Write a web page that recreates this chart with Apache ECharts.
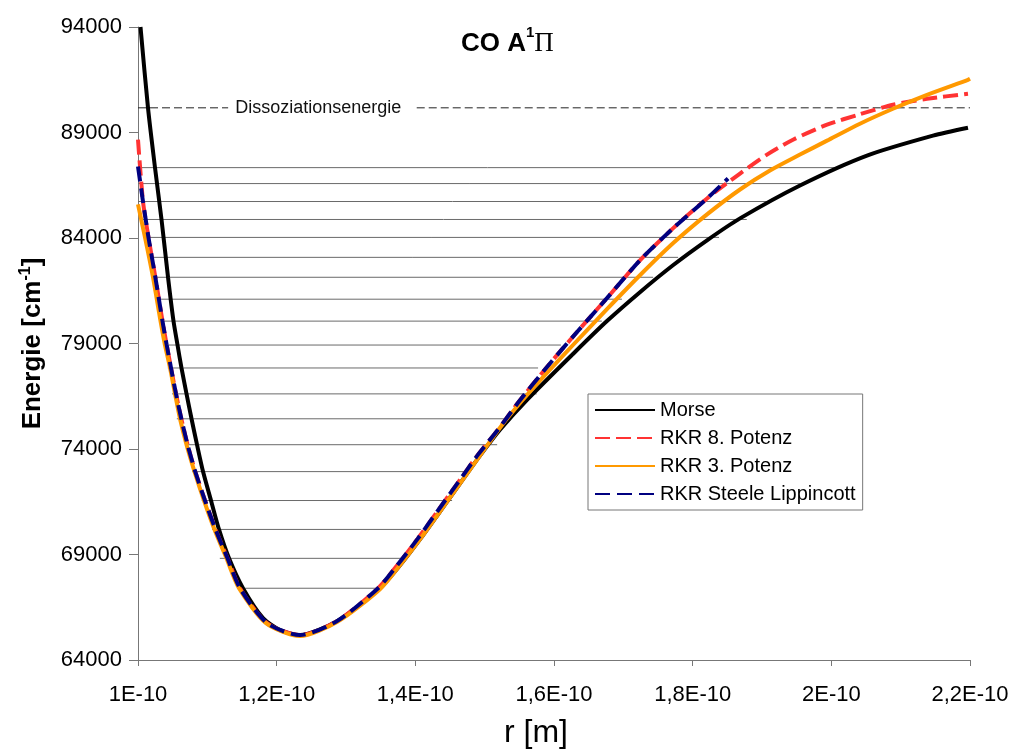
<!DOCTYPE html>
<html>
<head>
<meta charset="utf-8">
<style>
  html, body { margin: 0; padding: 0; background: #fff; }
  #chart { width: 1012px; height: 754px; }
</style>
<script src="https://cdn.jsdelivr.net/npm/echarts@6/dist/echarts.min.js"></script>
</head>
<body>
<div id="chart"></div>
<script>
// r in units of 1E-10 m, energies in cm^-1
const morseR = [1.0036, 1.0144, 1.0245, 1.0339, 1.0433, 1.0512, 1.0570, 1.0627, 1.0700, 1.0772, 1.0851, 1.0938, 1.1053, 1.1168, 1.1313, 1.1514, 1.1803, 1.2048, 1.2337, 1.2870, 1.3490, 1.3779, 1.4067, 1.4356, 1.4644, 1.4933, 1.5221, 1.5611, 1.6274, 1.6764, 1.7240, 1.7716, 1.8207, 1.8683, 1.9548, 2.0514, 2.1466, 2.1971];
const morseE = [94000, 90173, 87339, 84882, 82142, 80063, 78929, 77843, 76614, 75433, 74205, 72929, 71559, 70189, 68819, 67402, 65984, 65417, 65181, 65843, 67402, 68488, 69717, 71039, 72362, 73685, 74913, 76331, 78504, 80063, 81433, 82708, 83890, 84929, 86488, 87905, 88850, 89228];

const rkr8R = [1.0, 1.0072, 1.0151, 1.0250, 1.0353, 1.0414, 1.0476, 1.0548, 1.0625, 1.0715, 1.0826, 1.0966, 1.1118, 1.1291, 1.1471, 1.1861, 1.2337, 1.2870, 1.3462, 1.3750, 1.4038, 1.4327, 1.4615, 1.4904, 1.5192, 1.5481, 1.5899, 1.6332, 1.6764, 1.7240, 1.7716, 1.8207, 1.8683, 1.9072, 1.9447, 1.9938, 2.0413, 2.0889, 2.1380, 2.1971];
const rkr8E = [88661, 85732, 84031, 82142, 80063, 78929, 77843, 76614, 75433, 74205, 72929, 71559, 70189, 68819, 67402, 65748, 65181, 65843, 67402, 68535, 69764, 71087, 72409, 73732, 74913, 76189, 77890, 79543, 81150, 82945, 84457, 85874, 87055, 87953, 88660, 89370, 89866, 90315, 90598, 90835];

const rkr3R = [1.0, 1.0101, 1.0216, 1.0325, 1.0389, 1.0462, 1.0534, 1.0606, 1.0700, 1.0815, 1.0952, 1.1103, 1.1276, 1.1457, 1.1846, 1.2337, 1.2870, 1.3490, 1.3779, 1.4067, 1.4356, 1.4644, 1.4933, 1.5221, 1.5538, 1.5899, 1.6274, 1.6764, 1.7240, 1.7716, 1.8207, 1.8683, 1.9115, 1.9548, 1.9938, 2.0413, 2.0889, 2.1380, 2.1971, 2.2];
const rkr3E = [85590, 84031, 82142, 80063, 78929, 77843, 76614, 75433, 74205, 72929, 71559, 70189, 68819, 67402, 65748, 65134, 65795, 67354, 68488, 69717, 71039, 72362, 73685, 75008, 76284, 77606, 78929, 80630, 82236, 83748, 85117, 86299, 87198, 87953, 88614, 89417, 90126, 90787, 91496, 91543];

const slR = [1.0, 1.0072, 1.0151, 1.0250, 1.0353, 1.0414, 1.0476, 1.0548, 1.0625, 1.0715, 1.0826, 1.0966, 1.1118, 1.1291, 1.1471, 1.1861, 1.2337, 1.2870, 1.3462, 1.3750, 1.4038, 1.4327, 1.4615, 1.4904, 1.5192, 1.5481, 1.5899, 1.6332, 1.6764, 1.7240, 1.7716, 1.8207, 1.8510];
const slE = [87386, 85732, 84031, 82142, 80063, 78929, 77843, 76614, 75433, 74205, 72929, 71559, 70189, 68819, 67402, 65748, 65181, 65843, 67402, 68535, 69764, 71087, 72409, 73732, 74913, 76189, 77890, 79543, 81150, 82945, 84457, 85874, 86819];

// vibrational levels: energy, left and right end
const levelE = [87335, 86579, 85729, 84878, 84028, 83083, 82139, 81100, 80061, 78927, 77840, 76612, 75432, 74203, 72928, 71558, 70188, 68818, 67401];
const levelLeft = [1.000, 1.000, 1.000, 1.003, 1.010, 1.014, 1.022, 1.027, 1.035, 1.036, 1.043, 1.049, 1.056, 1.068, 1.078, 1.092, 1.107, 1.118, 1.147];
const levelRight = [2.008, 1.955, 1.907, 1.878, 1.838, 1.779, 1.743, 1.698, 1.669, 1.610, 1.577, 1.575, 1.537, 1.518, 1.475, 1.453, 1.408, 1.382, 1.349];

const dissE = 90170;
const dissSeg1 = [1.000, 1.130];
const dissSeg2 = [1.402, 2.200];

const seriesNames = ['Morse', 'RKR 8. Potenz', 'RKR 3. Potenz', 'RKR Steele Lippincott'];

const font = '"Liberation Sans", Arial, Helvetica, sans-serif';

function pairs(xs, ys) {
  return xs.map((x, i) => [x, ys[i]]);
}

const series = [];

levelE.forEach((e, i) => {
  series.push({
    name: 'level' + i,
    type: 'line',
    symbol: 'none',
    silent: true,
    z: 1,
    lineStyle: { color: '#6a6a6a', width: 1 },
    data: [[levelLeft[i], e], [levelRight[i], e]]
  });
});

series.push({
  name: 'diss1',
  type: 'line',
  symbol: 'none',
  silent: true,
  z: 1,
  lineStyle: { color: '#222', width: 1, type: [8, 4] },
  data: [[dissSeg1[0], dissE], [dissSeg1[1], dissE]],
  endLabel: {
    show: true,
    formatter: 'Dissoziationsenergie',
    distance: 7,
    fontFamily: font,
    fontSize: 18,
    color: '#111'
  }
});
series.push({
  name: 'diss2',
  type: 'line',
  symbol: 'none',
  silent: true,
  z: 1,
  lineStyle: { color: '#222', width: 1, type: [8, 4] },
  data: [[dissSeg2[0], dissE], [dissSeg2[1], dissE]]
});

const curveStyles = [
  { color: '#000000', width: 4, type: 'solid' },
  { color: '#FF3333', width: 4, type: [15, 6] },
  { color: '#FF9900', width: 4, type: 'solid' },
  { color: '#000080', width: 4, type: [15, 7] }
];
const curveData = [pairs(morseR, morseE), pairs(rkr8R, rkr8E), pairs(rkr3R, rkr3E), pairs(slR, slE)];

seriesNames.forEach((n, i) => {
  series.push({
    name: n,
    type: 'line',
    symbol: 'none',
    smooth: 0.25,
    z: 3 + i,
    color: curveStyles[i].color,
    lineStyle: curveStyles[i],
    data: curveData[i]
  });
});

const chart = echarts.init(document.getElementById('chart'));
chart.setOption({
  animation: false,
  backgroundColor: '#fff',
  title: {
    text: '{a|CO A}{s|1}{p|Π}',
    left: 456,
    top: 20,
    textStyle: {
      rich: {
        a: { fontFamily: font, fontSize: 26, fontWeight: 'bold', color: '#000', lineHeight: 32, verticalAlign: 'bottom' },
        s: { fontFamily: font, fontSize: 15, fontWeight: 'bold', color: '#000', lineHeight: 32, verticalAlign: 'top' },
        p: { fontFamily: '"Liberation Serif", "DejaVu Serif", serif', fontSize: 27, fontWeight: 'normal', color: '#000', lineHeight: 32, verticalAlign: 'bottom' }
      }
    }
  },
  legend: {
    data: seriesNames,
    orient: 'vertical',
    left: 588,
    top: 394,
    itemWidth: 60,
    itemHeight: 14,
    itemGap: 8,
    padding: [6, 7, 6, 6],
    borderColor: '#777',
    borderWidth: 1,
    backgroundColor: '#fff',
    itemStyle: { opacity: 0 },
    textStyle: { fontFamily: font, fontSize: 20, lineHeight: 16, color: '#000' }
  },
  grid: { left: 138, right: 42, top: 27, bottom: 92, containLabel: false },
  xAxis: {
    type: 'value',
    min: 1.0,
    max: 2.2,
    interval: 0.2,
    name: 'r [m]',
    nameLocation: 'middle',
    nameGap: 57,
    nameTextStyle: { fontFamily: font, fontSize: 32, color: '#000', padding: [0, 36, 0, 0] },
    axisLine: { lineStyle: { color: '#777', width: 1 } },
    axisTick: { length: 6, lineStyle: { color: '#777' } },
    splitLine: { show: false },
    axisLabel: {
      margin: 24,
      fontFamily: font,
      fontSize: 22,
      color: '#000',
      formatter: v => (Math.round(v * 10) / 10).toString().replace('.', ',') + 'E-10'
    }
  },
  yAxis: {
    type: 'value',
    min: 64000,
    max: 94000,
    interval: 5000,
    name: 'Energie [cm{s|-1}]',
    nameLocation: 'middle',
    nameGap: 90,
    nameTextStyle: {
      fontFamily: font,
      fontSize: 26,
      fontWeight: 'bold',
      color: '#000',
      rich: {
        s: { fontFamily: font, fontSize: 16, fontWeight: 'bold', color: '#000', verticalAlign: 'top', lineHeight: 30 }
      }
    },
    axisLine: { show: true, lineStyle: { color: '#777', width: 1 } },
    axisTick: { show: true, length: 9, lineStyle: { color: '#777' } },
    splitLine: { show: false },
    axisLabel: { margin: 16, fontFamily: font, fontSize: 22, color: '#000', formatter: v => String(v) }
  },
  series: series
});
</script>
</body>
</html>
